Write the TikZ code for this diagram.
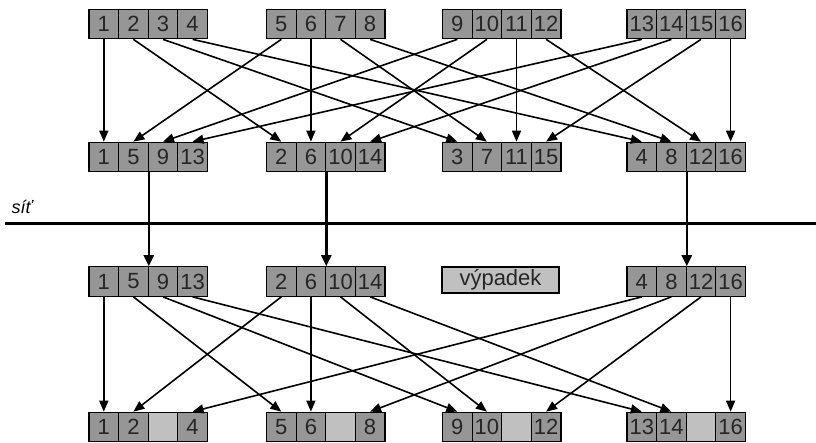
\documentclass[tikz,border=0pt]{standalone}
\usepackage{fontspec}
\setmainfont{Liberation Sans}
\usetikzlibrary{arrows.meta}
\definecolor{cellgray}{RGB}{150,150,150}
\definecolor{lightcell}{RGB}{192,192,192}
\begin{document}
\begin{tikzpicture}[x=1pt,y=-1pt,
  cell/.style={draw=black, line width=1.2pt, fill=cellgray, minimum width=29.6pt, minimum height=29.5pt, inner sep=0pt, font=\fontsize{22}{24}\selectfont, text=black!85},
  emptycell/.style={cell, fill=lightcell},
  arr/.style={line width=1.6pt, -{Triangle[length=11pt,width=9pt]}},
  thickarr/.style={line width=2.6pt, -{Triangle[length=11pt,width=10pt]}},
  seplabel/.style={anchor=base west, font=\fontsize{18}{20}\selectfont\itshape},
]
\useasboundingbox (0,0) rectangle (816,442);

% row 1
\foreach \v in {1,...,16} {
  \pgfmathtruncatemacro\g{(\v-1)/4}
  \pgfmathtruncatemacro\p{mod(\v-1,4)}
  \pgfmathsetmacro\gx{{89,266.5,442.5,627}[\g]}
  \pgfmathsetmacro\xx{\gx+(\p+0.5)*29.6}
  \node[cell] (a\v) at (\xx,24) {\v};
}
% row 2
\foreach \g in {0,...,3} {
  \foreach \p in {0,...,3} {
    \pgfmathtruncatemacro\v{\g+1+4*\p}
    \pgfmathsetmacro\gx{{89,266.5,442.5,627}[\g]}
    \pgfmathsetmacro\xx{\gx+(\p+0.5)*29.6}
    \node[cell] (b\v) at (\xx,157) {\v};
  }
}
% row 3
\foreach \g in {0,1,3} {
  \foreach \p in {0,...,3} {
    \pgfmathtruncatemacro\v{\g+1+4*\p}
    \pgfmathsetmacro\gx{{89,266.5,442.5,627}[\g]}
    \pgfmathsetmacro\xx{\gx+(\p+0.5)*29.6}
    \node[cell] (c\v) at (\xx,281.5) {\v};
  }
}
\node[emptycell, minimum width=117pt, minimum height=26pt] (vyp) at (500.5,280) {výpadek};
% row 4
\foreach \g in {0,...,3} {
  \foreach \p in {0,...,3} {
    \pgfmathtruncatemacro\v{4*\g+\p+1}
    \pgfmathsetmacro\gx{{89,266.5,442.5,627}[\g]}
    \pgfmathsetmacro\xx{\gx+(\p+0.5)*29.6}
    \ifnum\p=2
      \node[emptycell] (d\v) at (\xx,427) {};
    \else
      \node[cell] (d\v) at (\xx,427) {\v};
    \fi
  }
}

% separator
\coordinate (sepL) at (5,223);
\coordinate (sepR) at (816,223);
\draw[line width=3pt] (sepL) -- (sepR);
\node[seplabel] (lbl) at (8,213) {síť};

% arrows row1 -> row2
\foreach \v in {1,...,16} {
  \draw[arr] (a\v.south) -- (b\v.north);
}
% arrows row2 -> row3
\foreach \v in {5,6,8} {
  \draw[thickarr] (b\v.south east) -- (c\v.north east);
}
% arrows row3 -> row4
\foreach \v in {1,2,4,5,6,8,9,10,12,13,14,16} {
  \draw[arr] (c\v.south) -- (d\v.north);
}
\end{tikzpicture}
\end{document}
